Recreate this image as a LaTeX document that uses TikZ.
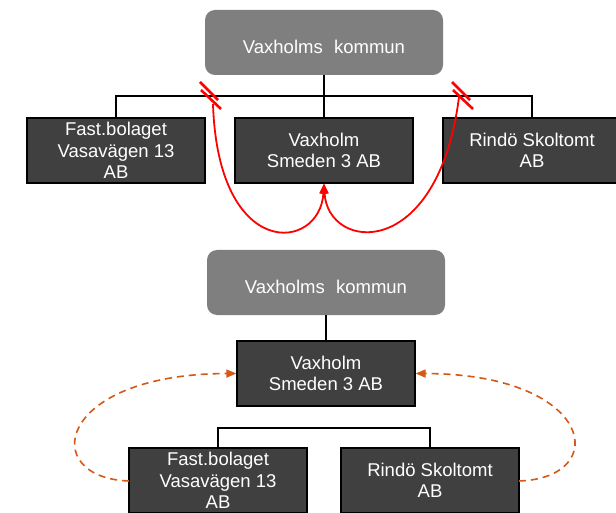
\documentclass[tikz,border=0pt]{standalone}
\usepackage{fontspec}
\setmainfont{Liberation Sans}
\usetikzlibrary{arrows.meta}
\usetikzlibrary{calc}
\definecolor{ownerGray}{RGB}{127,127,127}
\definecolor{companyGray}{RGB}{64,64,64}
\definecolor{sellRed}{RGB}{255,0,0}
\definecolor{flowOrange}{RGB}{214,88,22}
\tikzset{
    owner/.style={
        ,   rectangle
        ,   rounded corners=10pt
        ,   fill=ownerGray
        ,   text=white
        ,   text height=23pt % text sits a bit below the middle
        ,   minimum width=238pt
        ,   minimum height=65pt
    },
    company/.style={
        ,   rectangle
        ,   draw=black
        ,   line width=1.2pt
        ,   fill=companyGray
        ,   text=white
        ,   align=center
        ,   minimum width=178pt
        ,   minimum height=65pt
    },
    tree/.style={
        ,   line width=1.6pt
        ,   draw=black
    },
    cut/.style={
        ,   line width=1.8pt
        ,   draw=sellRed
    },
    cutMark/.style={
        ,   line width=2.6pt
        ,   draw=sellRed
    },
    flow/.style={
        ,   line width=1.6pt
        ,   draw=flowOrange
        ,   dash pattern=on 7pt off 5pt
        ,   -{Triangle[length=10pt,width=8pt]}
    }
}
\begin{document}
\begin{tikzpicture}[x=1pt, y=-1pt, inner sep=1pt, font={\fontsize{18.5}{21.5}\selectfont}]
	\useasboundingbox (0,0) rectangle (616,513);

	% top chart: before
	\node[owner] (K1) at (324,42.5) {Vaxholms\,\, kommun};
	\node[company] (F1) at (116,150.5) {Fast.bolaget\\Vasavägen 13\\AB};
	\node[company] (S1) at (324,150.5) {Vaxholm\\Smeden 3 AB};
	\node[company] (R1) at (532,150.5) {Rindö Skoltomt\\AB};

	\coordinate (J1) at (324,96);
	\draw[tree] (K1.south) -- (S1.north);
	\draw[tree] (F1.north) |- (J1) -| (R1.north);

	% cut marks on the lines to the sold companies
	\foreach \x/\n in {210/L, 462/R}{
	\coordinate (B\n) at (\x,95);
	\draw[cutMark] ($(B\n)+(-10,-13)$) -- ($(B\n)+(8,5)$);
	\draw[cutMark] ($(B\n)+(-9,-5)$) -- ($(B\n)+(11,14)$);
	}
	\coordinate (BL2) at (213,104);
	\coordinate (BR2) at (459,97);
	\draw[cut, -{Triangle[length=10pt,width=8pt]}] (BL2) .. controls (218,262) and (320,252) .. (S1.south);
	\draw[cut, -{Triangle[length=10pt,width=8pt]}] (BR2) .. controls (438,262) and (328,252) .. (S1.south); % top chart finished

	% bottom chart: after
	\node[owner] (K2) at (326,282.5) {Vaxholms\,\, kommun};
	\node[company] (S2) at (326,373.5) {Vaxholm\\Smeden 3 AB};
	\node[company] (F2) at (218,480.5) {Fast.bolaget\\Vasavägen 13\\AB};
	\node[company] (R2) at (430,480.5) {Rindö Skoltomt\\AB};

	\coordinate (J2) at (326,428);
	\draw[tree] (K2.south) -- (S2.north);
	\draw[tree] (F2.north) |- (J2) -| (R2.north);

	\coordinate (FL) at (129,481);
	\coordinate (RR) at (519,481);
	\draw[flow] (FL) .. controls (38,478) and (55,374) .. (S2.west);
	\draw[flow] (RR) .. controls (612,478) and (595,374) .. (S2.east);
\end{tikzpicture}
\end{document}
